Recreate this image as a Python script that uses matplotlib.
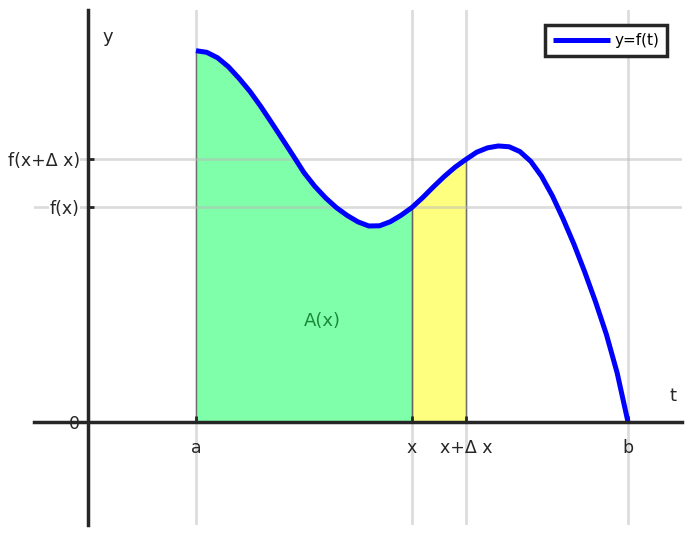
import numpy as np
import matplotlib.pyplot as plt

plt.rcParams['font.family'] = ['DejaVu Sans']

# curve y=f(t), every 0.1
t_vals = [1.0, 1.1, 1.2, 1.3, 1.4, 1.5, 1.6, 1.7, 1.8, 1.9,
          2.0, 2.1, 2.2, 2.3, 2.4, 2.5, 2.6, 2.7, 2.8, 2.9,
          3.0, 3.1, 3.2, 3.3, 3.4, 3.5, 3.6, 3.7, 3.8, 3.9,
          4.0, 4.1, 4.2, 4.3, 4.4, 4.5, 4.6, 4.7, 4.8, 4.9, 5.0]
f_vals = [3.605, 3.589, 3.536, 3.449, 3.335, 3.209, 3.063, 2.906, 2.746, 2.585,
          2.421, 2.288, 2.176, 2.081, 2.005, 1.943, 1.903, 1.905, 1.945, 2.008,
          2.083, 2.180, 2.285, 2.385, 2.475, 2.550, 2.620, 2.662, 2.680, 2.672,
          2.625, 2.530, 2.385, 2.195, 1.970, 1.725, 1.455, 1.165, 0.850, 0.475, 0.0]

a, x0, x1, b = 1.0, 3.0, 3.5, 5.0
xtick_pos = [a, x0, x1, b]
xtick_lab = ['a', 'x', 'x+\u0394 x', 'b']
ytick_pos = [0, 2.083, 2.55]
ytick_lab = ['0', 'f(x)', 'f(x+\u0394 x)']

t = np.array(t_vals)
f = np.array(f_vals)

fig = plt.figure(figsize=(6.94, 5.35), dpi=100)
ax = fig.add_axes([34 / 694, 10 / 535, 648 / 694, 515 / 535])

# area under the curve
in_a = (t >= a) & (t <= x0 + 1e-9)
in_dx = (t >= x0 - 1e-9) & (t <= x1 + 1e-9)
ax.fill_between(t, 0, f, where=in_a, facecolor=(0, 1, 0.333, 0.5),
                edgecolor=(0, 0, 0, 0.85), linewidth=0.9, zorder=1)
ax.fill_between(t, 0, f, where=in_dx, facecolor=(1, 1, 0, 0.5),
                edgecolor=(0, 0, 0, 0.85), linewidth=0.9, zorder=1)

ax.plot(t, f, color='#0000ff', linewidth=3.6, label='y=f(t)', zorder=4,
        solid_capstyle='butt', solid_joinstyle='round')

ax.text(2.17, 0.98, 'A(x)', color='#1a8a3a', fontsize=13, ha='center', va='center')

ax.set_xlim(-0.5, 5.5)
ax.set_ylim(-1, 4)

for side in ['top', 'right']:
    ax.spines[side].set_visible(False)
for side in ['left', 'bottom']:
    ax.spines[side].set_position('zero')
    ax.spines[side].set_linewidth(2.5)
    ax.spines[side].set_color('#262626')
    ax.spines[side].set_zorder(5)

ax.set_xticks(xtick_pos)
ax.set_xticklabels(xtick_lab)
ax.set_yticks(ytick_pos)
ax.set_yticklabels(ytick_lab)
ax.tick_params(direction='in', length=4, width=2, color='#262626', labelsize=12.5,
               labelcolor='#262626')
ax.tick_params(axis='x', pad=12)
ax.tick_params(axis='y', pad=6)
for lab in ax.get_yticklabels():
    lab.set_bbox(dict(facecolor='white', edgecolor='none', pad=0.5))

ax.set_axisbelow(False)
ax.grid(True, color='#bbbbbb', alpha=0.5, linewidth=2, zorder=2)

ax.text(0.18, 3.74, 'y', fontsize=13, color='#262626', ha='center', va='center')
ax.text(5.42, 0.25, 't', fontsize=13, color='#262626', ha='center', va='center')

leg = ax.legend(loc='upper right', fontsize=11, handlelength=3.7, fancybox=False,
                framealpha=1, edgecolor='#262626', borderaxespad=1.0,
                borderpad=0.5, handletextpad=0.3)
leg.get_frame().set_linewidth(2.5)

fig.savefig('out.png', dpi=100)
